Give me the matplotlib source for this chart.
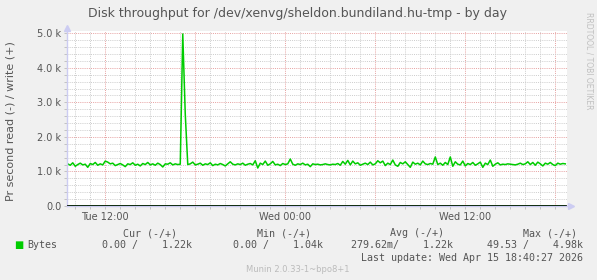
import numpy as np
import matplotlib.pyplot as plt
from matplotlib.ticker import MultipleLocator, FixedLocator, FixedFormatter

# write (+) throughput in k bytes/s, one sample every 10 minutes from Tue 09:30
write_a = [1.22, 1.18, 1.25, 1.15, 1.20, 1.24, 1.19, 1.21, 1.12, 1.23,
           1.20, 1.26, 1.18, 1.22, 1.19, 1.30, 1.27, 1.22, 1.24, 1.17,
           1.20, 1.23, 1.19, 1.14, 1.22, 1.20, 1.25, 1.18, 1.21, 1.16,
           1.23, 1.20, 1.26, 1.19, 1.22, 1.18, 1.24, 1.20, 1.13, 1.22,
           1.21, 1.25, 1.19, 1.22, 1.20, 1.21]
write_spike = [4.98, 2.66]
write_b = [1.20, 1.22, 1.27, 1.19, 1.21, 1.24, 1.18, 1.22, 1.20, 1.25,
           1.17, 1.21, 1.19, 1.23, 1.20, 1.16, 1.22, 1.28, 1.21, 1.19,
           1.22, 1.20, 1.24, 1.18, 1.21, 1.23, 1.19, 1.31, 1.10, 1.24,
           1.20, 1.30, 1.18, 1.22, 1.29, 1.19, 1.21, 1.17, 1.23, 1.20,
           1.22, 1.36, 1.21, 1.18, 1.22, 1.20, 1.24, 1.19, 1.21, 1.14, 1.22]
write_c = [1.20, 1.21, 1.19, 1.20, 1.22, 1.20, 1.19, 1.21, 1.20, 1.23,
           1.18, 1.29, 1.21, 1.32, 1.19, 1.30, 1.22, 1.25, 1.18, 1.21,
           1.24, 1.20, 1.27, 1.19, 1.22, 1.31, 1.25, 1.30, 1.17, 1.24,
           1.20, 1.33, 1.19, 1.15, 1.26, 1.22, 1.28, 1.20, 1.12, 1.27,
           1.21, 1.24, 1.19, 1.30, 1.22, 1.20, 1.23, 1.21, 1.42, 1.20]
write_d = [1.24, 1.18, 1.26, 1.20, 1.42, 1.15, 1.28, 1.21, 1.19, 1.30,
           1.16, 1.23, 1.20, 1.26, 1.18, 1.22, 1.27, 1.12, 1.24, 1.20,
           1.33, 1.15, 1.21, 1.25, 1.19, 1.21, 1.20, 1.22, 1.21, 1.20,
           1.19, 1.21, 1.24, 1.20, 1.22, 1.28, 1.20, 1.26, 1.18, 1.27,
           1.22, 1.16, 1.24, 1.21, 1.26, 1.20, 1.17, 1.24, 1.21, 1.23, 1.22]
write_k = write_a + write_spike + write_b + write_c + write_d
read_k = [0.0] * len(write_k)

start_h = 9.5          # hours since Tue 00:00
step_h = 10 / 60.0

x_ticks = [12, 18, 24, 30, 36, 42]
x_labels = ['Tue 12:00', '', 'Wed 00:00', '', 'Wed 12:00', '']
y_ticks = [0, 1000, 2000, 3000, 4000, 5000]
y_labels = ['0.0', '1.0 k', '2.0 k', '3.0 k', '4.0 k', '5.0 k']

legend_heads = ['Cur (-/+)', 'Min (-/+)', 'Avg (-/+)', 'Max (-/+)']
legend_vals = ['0.00 /    1.22k', '0.00 /    1.04k',
               '279.62m/    1.22k', '49.53 /    4.98k']

W, H = 597, 280
txt = '#555555'
fig = plt.figure(figsize=(W / 100, H / 100), dpi=100, facecolor='#f0f0f0')
ax = fig.add_axes([67 / W, 1 - 206 / H, 500 / W, 175 / H])
ax.set_facecolor('white')

t = start_h + step_h * np.arange(len(write_k))
ax.plot(t, -np.array(read_k) * 1000, color='#00cc00', lw=1.1)
ax.plot(t, np.array(write_k) * 1000, color='#00cc00', lw=1.1)
ax.axhline(0, color='black', lw=1.1, zorder=3)

ax.set_xlim(9.45, 42.78)
ax.set_ylim(0, 5066)

ax.xaxis.set_major_locator(FixedLocator(x_ticks))
ax.xaxis.set_major_formatter(FixedFormatter(x_labels))
ax.xaxis.set_minor_locator(MultipleLocator(1))
ax.yaxis.set_major_locator(FixedLocator(y_ticks))
ax.yaxis.set_major_formatter(FixedFormatter(y_labels))
ax.yaxis.set_minor_locator(MultipleLocator(200))

ax.grid(which='minor', color='#cccccc', lw=0.7, ls=(0, (1, 1.2)))
ax.grid(which='major', color='#e6a0a0', lw=0.7, ls=(0, (1, 1.2)))
ax.set_axisbelow(True)

ax.tick_params(which='both', colors='#bbbbbb', labelcolor=txt, labelsize=7,
               length=2, width=0.6)
ax.tick_params(axis='y', pad=2)
ax.tick_params(axis='x', pad=2)

for s in ['top', 'right']:
    ax.spines[s].set_visible(False)
for s in ['left', 'bottom']:
    ax.spines[s].set_color('#ccccf2')
    ax.spines[s].set_linewidth(1)
ax.plot(1.008, 0, marker='>', color='#ccccf2', ms=4, transform=ax.transAxes,
        clip_on=False)
ax.plot(0, 1.02, marker='^', color='#ccccf2', ms=4, transform=ax.transAxes,
        clip_on=False)

def px(x, y):
    return x / W, 1 - y / H

fig.text(*px(298, 14), 'Disk throughput for /dev/xenvg/sheldon.bundiland.hu-tmp - by day',
         ha='center', va='center', fontsize=9, color=txt)
fig.text(*px(11, 121), 'Pr second read (-) / write (+)', rotation=90,
         ha='center', va='center', fontsize=8, color=txt)
fig.text(*px(589, 61), 'RRDTOOL / TOBI OETIKER', rotation=270,
         ha='center', va='center', fontsize=5.5, color='#c0c0c0')

mono = 'DejaVu Sans Mono'
for cx, head in zip([150, 284, 417, 550], legend_heads):
    fig.text(*px(cx, 233), head, ha='center', va='center', fontsize=7.2,
             family=mono, color=txt)
for rx, val in zip([192, 323, 453, 583], legend_vals):
    fig.text(*px(rx, 245), val, ha='right', va='center', fontsize=7.2,
             family=mono, color=txt)
fig.text(*px(14, 245), '\u25a0', ha='left', va='center', fontsize=7,
         color='#00cc00')
fig.text(*px(27, 245), 'Bytes', ha='left', va='center', fontsize=7.2,
         family=mono, color=txt)
fig.text(*px(583, 258), 'Last update: Wed Apr 15 18:40:27 2026', ha='right',
         va='center', fontsize=7.2, family=mono, color=txt)
fig.text(*px(298, 269), 'Munin 2.0.33-1~bpo8+1', ha='center', va='center',
         fontsize=6, color='#bbbbbb')

fig.savefig('out.png', dpi=100, facecolor=fig.get_facecolor())
